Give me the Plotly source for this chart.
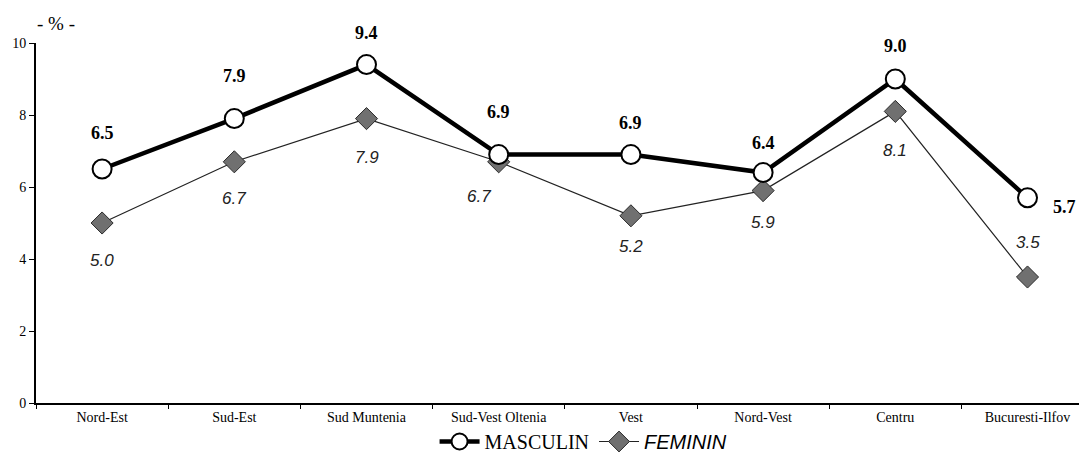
import plotly.graph_objects as go

regions = ["Nord-Est", "Sud-Est", "Sud Muntenia", "Sud-Vest Oltenia", "Vest", "Nord-Vest", "Centru", "Bucuresti-Ilfov"]
masculin = [6.5, 7.9, 9.4, 6.9, 6.9, 6.4, 9.0, 5.7]
feminin = [5.0, 6.7, 7.9, 6.7, 5.2, 5.9, 8.1, 3.5]
y_ticks = [0, 2, 4, 6, 8, 10]

fig = go.Figure()
fig.add_trace(go.Scatter(
    x=regions, y=feminin, name="<span style='font-family:Liberation Sans'><i>FEMININ</i></span>",
    mode="lines+markers",
    line=dict(color="#222222", width=1.2),
    marker=dict(symbol="diamond", size=17, color="#707070", line=dict(color="#2a2a2a", width=1)),
))
fig.add_trace(go.Scatter(
    x=regions, y=masculin, name="MASCULIN", mode="lines+markers",
    line=dict(color="black", width=4.5),
    marker=dict(symbol="circle", size=19, color="white", line=dict(color="black", width=2)),
))

# label offsets (pixels)
m_shift = [(0, 36), (0, 43), (0, 32), (0, 43), (0, 32), (0, 30), (0, 33), (37, -9)]
f_shift = [(0, -37), (0, -37), (0, -39), (-20, -35), (0, -31), (0, -32), (0, -39), (0, 35)]

ann = []
for x, v, (dx, dy) in zip(regions, masculin, m_shift):
    ann.append(dict(x=x, y=v, text=f"<b>{v:.1f}</b>", showarrow=False, xshift=dx, yshift=dy,
                    bgcolor="white", borderpad=0,
                    font=dict(family="Liberation Serif", size=18, color="black")))
for x, v, (dx, dy) in zip(regions, feminin, f_shift):
    ann.append(dict(x=x, y=v, text=f"<i>{v:.1f}</i>", showarrow=False, xshift=dx, yshift=dy,
                    bgcolor="white", borderpad=0,
                    font=dict(family="Liberation Sans", size=17, color="#222222")))
ann.append(dict(xref="paper", yref="paper", x=0.0, y=1.0, xanchor="left", yanchor="bottom", yshift=7, xshift=-1,
                text="- % -", showarrow=False, font=dict(family="Liberation Serif", size=19, color="black")))
fig.update_layout(annotations=ann)

# the page body adds an 8px offset; figure is sized to fit the 1087x461 window
fig.update_layout(
    width=1079, height=453,
    margin=dict(l=28, r=0, t=35, b=58),
    paper_bgcolor="white", plot_bgcolor="white",
    showlegend=True,
    legend=dict(orientation="h", x=0.521, xanchor="center", yref="container", y=0.0, yanchor="bottom",
                traceorder="reversed", bgcolor="rgba(0,0,0,0)",
                font=dict(family="Liberation Serif", size=20, color="black"),
                itemwidth=40),
    xaxis=dict(type="category", range=[-0.5, 7.45], showline=True, linecolor="black", linewidth=2,
               automargin=False,
               ticks="outside", tickson="boundaries", ticklen=4, tickcolor="black", showgrid=False,
               tickfont=dict(family="Liberation Serif", size=14, color="black")),
    yaxis=dict(range=[0, 10], tickvals=y_ticks, showline=True, linecolor="black", linewidth=2,
               automargin=False,
               ticks="outside", ticklen=5, tickcolor="black", showgrid=False, zeroline=False,
               tickfont=dict(family="Liberation Serif", size=14, color="black")),
)
fig.write_html("out.html")
